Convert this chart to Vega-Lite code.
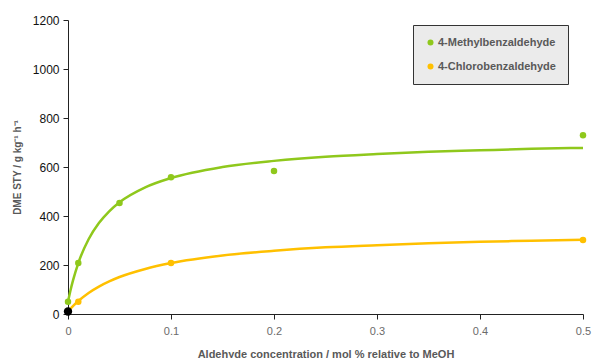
{
  "$schema": "https://vega.github.io/schema/vega-lite/v6.json",
  "autosize": "none",
  "width": 515,
  "height": 294,
  "padding": {"left": 68, "top": 20, "right": 9, "bottom": 44},
  "background": "white",
  "config": {
    "view": {"stroke": null},
    "font": "Liberation Sans"
  },
  "datasets": {
    "observed": [
      {"series": "4-Methylbenzaldehyde", "conc": 0, "sty": 50},
      {"series": "4-Methylbenzaldehyde", "conc": 0.01, "sty": 208},
      {"series": "4-Methylbenzaldehyde", "conc": 0.05, "sty": 453},
      {"series": "4-Methylbenzaldehyde", "conc": 0.1, "sty": 558},
      {"series": "4-Methylbenzaldehyde", "conc": 0.2, "sty": 584},
      {"series": "4-Methylbenzaldehyde", "conc": 0.5, "sty": 730},
      {"series": "4-Chlorobenzaldehyde", "conc": 0.01, "sty": 50},
      {"series": "4-Chlorobenzaldehyde", "conc": 0.1, "sty": 208},
      {"series": "4-Chlorobenzaldehyde", "conc": 0.5, "sty": 302}
    ],
    "trend": [
      {"series": "4-Methylbenzaldehyde", "conc": 0, "sty": 50},
      {"series": "4-Methylbenzaldehyde", "conc": 0.0025, "sty": 98},
      {"series": "4-Methylbenzaldehyde", "conc": 0.005, "sty": 139},
      {"series": "4-Methylbenzaldehyde", "conc": 0.01, "sty": 208},
      {"series": "4-Methylbenzaldehyde", "conc": 0.02, "sty": 305},
      {"series": "4-Methylbenzaldehyde", "conc": 0.03, "sty": 371},
      {"series": "4-Methylbenzaldehyde", "conc": 0.04, "sty": 419},
      {"series": "4-Methylbenzaldehyde", "conc": 0.05, "sty": 456},
      {"series": "4-Methylbenzaldehyde", "conc": 0.075, "sty": 517},
      {"series": "4-Methylbenzaldehyde", "conc": 0.1, "sty": 555},
      {"series": "4-Methylbenzaldehyde", "conc": 0.15, "sty": 600},
      {"series": "4-Methylbenzaldehyde", "conc": 0.2, "sty": 625},
      {"series": "4-Methylbenzaldehyde", "conc": 0.25, "sty": 642},
      {"series": "4-Methylbenzaldehyde", "conc": 0.3, "sty": 653},
      {"series": "4-Methylbenzaldehyde", "conc": 0.35, "sty": 662},
      {"series": "4-Methylbenzaldehyde", "conc": 0.4, "sty": 668},
      {"series": "4-Methylbenzaldehyde", "conc": 0.45, "sty": 674},
      {"series": "4-Methylbenzaldehyde", "conc": 0.5, "sty": 678},
      {"series": "4-Chlorobenzaldehyde", "conc": 0, "sty": 10},
      {"series": "4-Chlorobenzaldehyde", "conc": 0.0025, "sty": 22},
      {"series": "4-Chlorobenzaldehyde", "conc": 0.005, "sty": 33},
      {"series": "4-Chlorobenzaldehyde", "conc": 0.01, "sty": 53},
      {"series": "4-Chlorobenzaldehyde", "conc": 0.02, "sty": 86},
      {"series": "4-Chlorobenzaldehyde", "conc": 0.03, "sty": 112},
      {"series": "4-Chlorobenzaldehyde", "conc": 0.04, "sty": 133},
      {"series": "4-Chlorobenzaldehyde", "conc": 0.05, "sty": 151},
      {"series": "4-Chlorobenzaldehyde", "conc": 0.075, "sty": 184},
      {"series": "4-Chlorobenzaldehyde", "conc": 0.1, "sty": 208},
      {"series": "4-Chlorobenzaldehyde", "conc": 0.15, "sty": 239},
      {"series": "4-Chlorobenzaldehyde", "conc": 0.2, "sty": 258},
      {"series": "4-Chlorobenzaldehyde", "conc": 0.25, "sty": 272},
      {"series": "4-Chlorobenzaldehyde", "conc": 0.3, "sty": 281},
      {"series": "4-Chlorobenzaldehyde", "conc": 0.35, "sty": 289},
      {"series": "4-Chlorobenzaldehyde", "conc": 0.4, "sty": 295},
      {"series": "4-Chlorobenzaldehyde", "conc": 0.45, "sty": 299},
      {"series": "4-Chlorobenzaldehyde", "conc": 0.5, "sty": 303}
    ],
    "blank": [
      {"conc": 0, "sty": 10}
    ]
  },
  "encoding": {
    "x": {
      "field": "conc",
      "type": "quantitative",
      "scale": {"domain": [0, 0.5], "nice": false, "zero": true},
      "axis": {
        "title": "Aldehyde concentration / mol % relative to MeOH",
        "titleFont": "Liberation Sans",
        "titleFontSize": 11,
        "titleFontWeight": "bold",
        "titleColor": "#595959",
        "titlePadding": 12,
        "values": [0, 0.1, 0.2, 0.3, 0.4, 0.5],
        "format": "~g",
        "labelFontSize": 11,
        "labelColor": "#6b6b6b",
        "labelPadding": 6,
        "labelFlush": false,
        "grid": false,
        "domainColor": "#222222",
        "domainWidth": 1,
        "tickColor": "#222222",
        "tickSize": 5
      }
    },
    "y": {
      "field": "sty",
      "type": "quantitative",
      "scale": {"domain": [0, 1200], "nice": false},
      "axis": {
        "title": "DME STY / g kg⁻¹ h⁻¹",
        "titleFont": "Liberation Sans",
        "titleFontSize": 10,
        "titleFontWeight": "bold",
        "titleColor": "#595959",
        "titlePadding": 10,
        "values": [0, 200, 400, 600, 800, 1000, 1200],
        "format": "d",
        "labelFontSize": 12,
        "labelColor": "#111111",
        "labelPadding": 4,
        "grid": false,
        "domainColor": "#222222",
        "domainWidth": 1,
        "tickColor": "#222222",
        "tickSize": 5
      }
    }
  },
  "layer": [
    {
      "data": {"name": "trend"},
      "mark": {"type": "line", "interpolate": "monotone", "strokeWidth": 2.5},
      "encoding": {
        "color": {
          "field": "series",
          "type": "nominal",
          "scale": {
            "domain": ["4-Methylbenzaldehyde", "4-Chlorobenzaldehyde"],
            "range": ["#8fc81c", "#ffc000"]
          },
          "legend": {
            "title": null,
            "orient": "none",
            "legendX": 345,
            "legendY": 5,
            "fillColor": "#ebebeb",
            "strokeColor": "#333333",
            "padding": 12,
            "rowPadding": 12,
            "symbolType": "circle",
            "symbolSize": 36,
            "symbolOpacity": 1,
            "symbolStrokeWidth": 0,
            "symbolOffset": 0,
            "labelOffset": 2,
            "labelFont": "Liberation Sans",
            "labelFontSize": 11,
            "labelFontWeight": "bold",
            "labelColor": "#595959",
            "labelLimit": 200
          }
        }
      }
    },
    {
      "data": {"name": "observed"},
      "mark": {"type": "circle", "size": 42, "opacity": 1},
      "encoding": {
        "color": {
          "field": "series",
          "type": "nominal",
          "scale": {
            "domain": ["4-Methylbenzaldehyde", "4-Chlorobenzaldehyde"],
            "range": ["#8fc81c", "#ffc000"]
          }
        }
      }
    },
    {
      "data": {"name": "blank"},
      "mark": {"type": "circle", "size": 70, "color": "#000000", "opacity": 1},
      "encoding": {}
    }
  ]
}
